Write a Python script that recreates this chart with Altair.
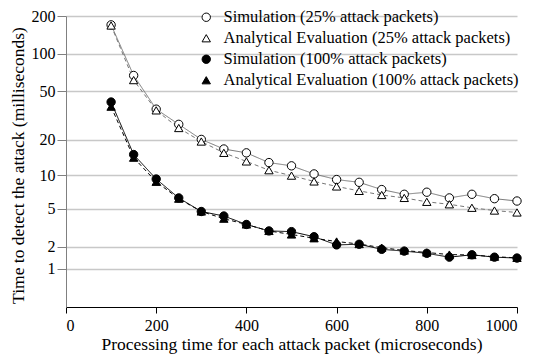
import altair as alt
import pandas as pd

x_vals = [100, 150, 200, 250, 300, 350, 400, 450, 500, 550,
          600, 650, 700, 750, 800, 850, 900, 950, 1000]
sim25 = [170, 67, 35.8, 26.9, 20.2, 16.8, 15.6, 12.9, 12.1, 10.3,
         9.2, 8.7, 7.5, 6.8, 7.1, 6.3, 6.8, 6.2, 5.9]
ana25 = [168, 61.5, 35, 25.1, 19.4, 15.6, 13.2, 11.1, 9.96, 8.86,
         8.0, 7.3, 6.7, 6.3, 5.8, 5.5, 5.1, 4.8, 4.6]
sim100 = [40.9, 15.1, 9.3, 6.3, 4.7, 4.25, 3.5, 3.0, 2.95, 2.6,
          2.1, 2.14, 1.86, 1.77, 1.66, 1.48, 1.59, 1.48, 1.44]
ana100 = [37.5, 14.2, 8.8, 6.2, 4.7, 4.0, 3.5, 3.0, 2.75, 2.5,
          2.3, 2.15, 1.95, 1.8, 1.7, 1.6, 1.58, 1.5, 1.45]

series_names = [
    "Simulation (25% attack packets)",
    "Analytical Evaluation (25% attack packets)",
    "Simulation (100% attack packets)",
    "Analytical Evaluation (100% attack packets)",
]
x_ticks = [0, 200, 400, 600, 800, 1000]
y_ticks = [1, 2, 5, 10, 20, 50, 100, 200]

rows = []
for name, vals in zip(series_names, [sim25, ana25, sim100, ana100]):
    for xv, yv in zip(x_vals, vals):
        rows.append({"x": xv, "y": yv, "series": name})
df = pd.DataFrame(rows)

FONT = "Liberation Serif"

xenc = alt.X(
    "x:Q",
    scale=alt.Scale(domain=[0, 1000], nice=False),
    axis=alt.Axis(
        values=x_ticks, format="d",
        title="Processing time for each attack packet (microseconds)",
        grid=False, domainColor="black", tickColor="black", tickSize=6,
        labelPadding=4, titleY=42, titleBaseline="alphabetic",
        labelFont=FONT, titleFont=FONT, labelFontSize=16, titleFontSize=17.5,
    ),
)
yenc = alt.Y(
    "y:Q",
    scale=alt.Scale(type="symlog", constant=1, domain=[0, 200], nice=False),
    axis=alt.Axis(
        values=y_ticks, format="d",
        title="Time to detect the attack (milliseconds)",
        grid=True, gridColor="#c8c8c8", gridWidth=1.5,
        domainColor="#808080", tickColor="#808080", tickSize=9, labelPadding=2,
        titleX=-48, titleY=149, titleAlign="center", titleBaseline="middle",
        labelFont=FONT, titleFont=FONT, labelFontSize=16, titleFontSize=17.5,
    ),
)

line_styles = [("#777777", [1, 0]), ("#777777", [4, 3]), ("black", [1, 0]), ("black", [4, 3])]
line_layers = []
for name, (col, dash) in zip(series_names, line_styles):
    line_layers.append(
        alt.Chart(df).transform_filter(alt.datum.series == name)
        .mark_line(stroke=col, strokeDash=dash, strokeWidth=1)
        .encode(x=xenc, y=yenc)
    )

leg = alt.Legend(
    title=None, orient="none", legendX=132, legendY=-7, padding=0,
    labelFont=FONT, labelFontSize=16.5, labelColor="black", labelOffset=9,
    symbolSize=70, symbolStrokeColor="black", symbolStrokeWidth=1,
    rowPadding=4, labelLimit=400,
)

points = alt.Chart(df).mark_point(filled=True, stroke="black", strokeWidth=1,
                                  opacity=1, size=70).encode(
    x=xenc,
    y=yenc,
    shape=alt.Shape("series:N", scale=alt.Scale(domain=series_names,
                    range=["circle", "triangle-up", "circle", "triangle-up"]), legend=leg),
    fill=alt.Fill("series:N", scale=alt.Scale(domain=series_names,
                  range=["white", "white", "black", "black"]), legend=leg),
    stroke=alt.Stroke("series:N", scale=alt.Scale(domain=series_names,
                      range=["black", "black", "black", "black"]), legend=leg),
)

chart = alt.layer(*line_layers, points).properties(
    width=451, height=291,
    autosize=alt.AutoSizeParams(type="none"),
    padding={"left": 58, "top": 8, "right": 9, "bottom": 47},
    background="white",
).configure(font=FONT).configure_axis(
    labelFont=FONT, titleFont=FONT,
    labelColor="black", titleColor="black", titleFontWeight="normal",
).configure_legend(labelFont=FONT).configure_view(stroke=None)

chart.save("out.html", embed_options={"renderer": "svg", "actions": False})
